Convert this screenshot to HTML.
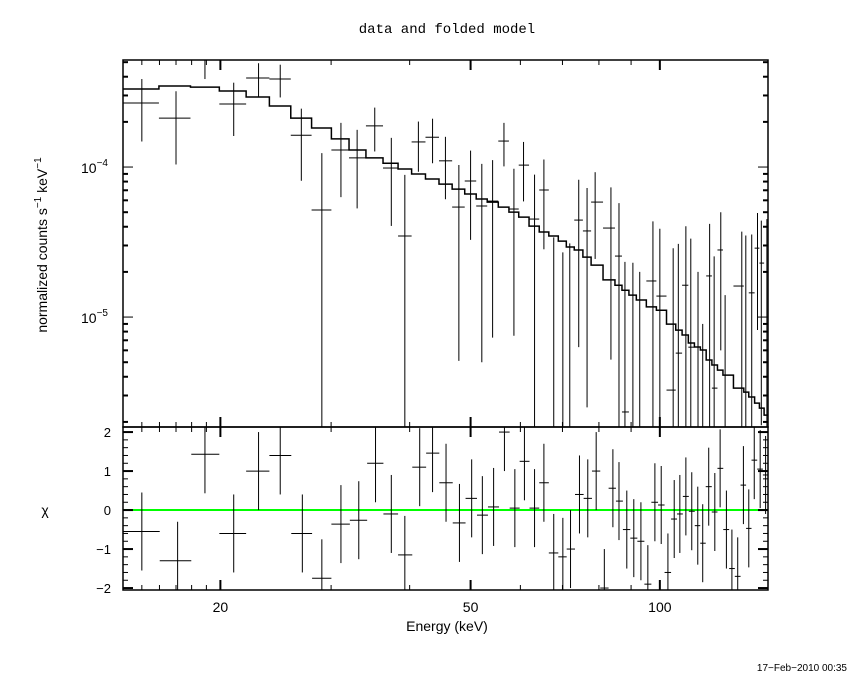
<!DOCTYPE html>
<html><head><meta charset="utf-8"><style>
body{margin:0;background:#fff;}
svg{display:block;font-family:"Liberation Sans",sans-serif;}
</style></head><body>
<svg id="chart" width="850" height="680" viewBox="0 0 850 680" xmlns="http://www.w3.org/2000/svg">
<rect width="850" height="680" fill="#fff"/>
<text x="447" y="33" text-anchor="middle" font-family="Liberation Mono, monospace" font-size="14">data and folded model</text>
<text transform="translate(47,245) rotate(-90)" text-anchor="middle" font-size="14">normalized counts s<tspan dy="-6" font-size="10">−1</tspan><tspan dy="6"> keV</tspan><tspan dy="-6" font-size="10">−1</tspan></text>
<text x="45" y="515" text-anchor="middle" font-size="14">χ</text>
<text x="447" y="631" text-anchor="middle" font-size="14">Energy (keV)</text>
<text x="847" y="671" text-anchor="end" font-size="10">17−Feb−2010 00:35</text>
<g id="topPanel"></g>
<g id="botPanel"></g>
</svg>
<script>
const SCALE = 1e-4;
const energies = [15.0,17.0,18.9,21.0,23.0,24.9,26.9,29.0,31.1,33.0,35.2,37.4,39.3,41.3,43.5,45.6,47.9,50.0,52.1,54.2,56.5,58.6,60.7,63.2,65.4,67.8,70.1,71.9,74.3,76.6,78.9,83.6,86.1,88.0,90.6,92.9,97.5,100,105,107,110,112,115,117,120,122,125,127,135,137,140,143,145,148];
const dataVals = [2.67,2.12,5.2,2.63,3.92,3.86,1.63,0.517,1.30,1.15,1.88,0.985,0.347,1.47,1.58,1.10,0.541,0.807,0.55,0.593,1.49,0.525,1.03,0.45,0.703,-0.05,-0.1,-0.05,0.443,0.375,0.584,0.392,0.255,0.0233,-0.08,-0.1,0.174,0.138,0.0326,0.0575,0.163,0.063,-0.05,-0.12,0.188,0.0336,0.28,-0.07,0.161,0.01,0.145,0.288,0.229,0.2];
const dataErrs = [1.19,1.08,1.34,1.02,1.0,0.95,0.82,0.72,0.67,0.62,0.61,0.58,0.54,0.54,0.52,0.49,0.49,0.48,0.5,0.52,0.48,0.45,0.44,0.44,0.42,0.39,0.37,0.36,0.38,0.35,0.34,0.34,0.32,0.21,0.31,0.3,0.26,0.25,0.255,0.25,0.24,0.27,0.25,0.21,0.23,0.22,0.22,0.21,0.21,0.34,0.21,0.206,0.21,0.25];
const modelVals = [3.31,3.47,3.41,3.21,2.93,2.55,2.12,1.82,1.54,1.30,1.15,1.06,0.97,0.898,0.832,0.77,0.713,0.661,0.612,0.584,0.541,0.501,0.464,0.404,0.369,0.347,0.321,0.293,0.28,0.251,0.222,0.177,0.163,0.151,0.14,0.13,0.117,0.111,0.0898,0.0819,0.0759,0.0671,0.0631,0.0603,0.0517,0.0479,0.0443,0.041,0.0336,0.0316,0.0293,0.0267,0.0247,0.0222];
const chiEnergies = [15.0,17.1,18.9,21.0,23.0,24.9,27.0,29.0,31.1,33.2,35.3,37.4,39.3,41.5,43.5,45.7,48.0,50.2,52.2,54.4,56.6,58.8,60.9,63.2,65.4,67.8,70.1,72.1,74.5,76.8,79.2,81.6,84.2,86.1,88.6,90.9,93.3,95.7,98.2,100.5,103,105.4,107.6,110,112.4,114.9,117,119.6,122.3,124.7,127.6,130.2,133,135.8,138.5,141.3,144.4,147.3];
const chiVals = [-0.55,-1.3,1.43,-0.6,1.0,1.4,-0.6,-1.75,-0.36,-0.26,1.2,-0.1,-1.15,1.1,1.46,0.7,-0.33,0.3,-0.13,0.08,2.0,0.05,1.25,0.05,0.7,-1.1,-1.2,-1.0,0.4,0.3,1.0,-2.0,0.56,0.23,-0.5,-0.72,-0.8,-1.9,0.2,0.13,-1.6,-0.23,-0.1,0.35,-0.03,-0.4,-0.85,0.6,-0.05,1.07,-0.5,-1.5,-1.7,0.64,-0.47,1.28,1.05,0.9];
const xTickLabels = [20,50,100];
const yTickLabels = [1e-4,1e-5];
const chiTickLabels = [2,1,0,-1,-2];

const L=123,R=768,T=60,M=427,B=590;
const EMIN=14,EMAX=148.6, YMIN=1.85e-6, YMAX=5.17e-4, CMIN=-2.05, CMAX=2.13;
const NS="http://www.w3.org/2000/svg";
const xs=e=>L+(Math.log10(e)-Math.log10(EMIN))/(Math.log10(EMAX)-Math.log10(EMIN))*(R-L);
const ys=v=>{ if(v<=0) return M+50; return M-(Math.log10(v)-Math.log10(YMIN))/(Math.log10(YMAX)-Math.log10(YMIN))*(M-T);};
const cs=c=>B-(c-CMIN)/(CMAX-CMIN)*(B-M);
const clampT=y=>Math.max(T,Math.min(M,y));
const clampC=y=>Math.max(M,Math.min(B,y));
function mk(tag,attrs,parent){const el=document.createElementNS(NS,tag);for(const k in attrs)el.setAttribute(k,attrs[k]);parent.appendChild(el);return el;}
function edges(en){const e=[EMIN];for(let i=0;i<en.length-1;i++)e.push(Math.sqrt(en[i]*en[i+1]));e.push(EMAX);return e;}
const topG=document.getElementById('topPanel'), botG=document.getElementById('botPanel');

const ed=edges(energies);
energies.forEach((e,i)=>{
  const v=dataVals[i]*SCALE, s=dataErrs[i]*SCALE;
  const g=mk('g',{stroke:'#000','stroke-width':1},topG);
  
  
  const x=xs(e);
  const y1=clampT(ys(v+s)), y2=clampT(ys(v-s));
  mk('line',{x1:x,x2:x,y1:y1,y2:y2},g);
  if(v>0){const y=ys(v); if(y>=T&&y<=M) mk('line',{x1:xs(ed[i]),x2:xs(ed[i+1]),y1:y,y2:y},g);}
});
let d='';
energies.forEach((e,i)=>{const y=clampT(ys(modelVals[i]*SCALE));d+=(i?'L':'M')+xs(ed[i])+','+y+'L'+xs(ed[i+1])+','+y;});
const mp=mk('path',{d:d,fill:'none',stroke:'#000','stroke-width':1.5},topG);



const ce=edges(chiEnergies);
const zl=mk('line',{x1:L,x2:R,y1:cs(0),y2:cs(0),stroke:'#00ff00','stroke-width':2},botG);


chiEnergies.forEach((e,i)=>{
  const c=chiVals[i];
  const g=mk('g',{stroke:'#000','stroke-width':1},botG);
  
  
  const x=xs(e);
  mk('line',{x1:x,x2:x,y1:clampC(cs(c+1)),y2:clampC(cs(c-1))},g);
  const y=cs(c); if(y>=M&&y<=B) mk('line',{x1:xs(ce[i]),x2:xs(ce[i+1]),y1:y,y2:y},g);
});

const f1=mk('rect',{x:L,y:T,width:R-L,height:M-T,fill:'none',stroke:'#000','stroke-width':1.5},topG);


const f2=mk('rect',{x:L,y:M,width:R-L,height:B-M,fill:'none',stroke:'#000','stroke-width':1.5},botG);



const xt=[15,16,17,18,19,20,30,40,50,60,70,80,90,100];
xt.forEach(e=>{const x=xs(e);const big=xTickLabels.includes(e);const len=big?10:5;
  [[T,1],[M,-1],[M,1],[B,-1]].forEach(([y0,dir])=>{const t=mk('line',{x1:x,x2:x,y1:y0,y2:y0+dir*len,stroke:'#000','stroke-width':big?2:1},topG);
    
    });
});
xTickLabels.forEach(e=>{const t=mk('text',{x:xs(e),y:612,'text-anchor':'middle','font-size':14},botG);t.textContent=e;
  
  });
for(let p=-6;p<=-4;p++)for(let m=1;m<=9;m++){const v=m*Math.pow(10,p);if(v<YMIN||v>YMAX)continue;const y=ys(v);const big=m===1;const len=big?10:5;
  const t1=mk('line',{x1:L,x2:L+len,y1:y,y2:y,stroke:'#000','stroke-width':big?1:2},topG);
  
  
  const t2=mk('line',{x1:R,x2:R-len,y1:y,y2:y,stroke:'#000','stroke-width':big?1:2},topG);
  
  }
yTickLabels.forEach(v=>{const y=ys(v);const p=Math.round(Math.log10(v));const t=mk('text',{x:108,y:y+6,'text-anchor':'end','font-size':14},topG);
  t.innerHTML='10<tspan dy="-7" font-size="10">'+(p<0?'−':'')+Math.abs(p)+'</tspan>';
  
  });
for(let c=-2;c<=2.001;c+=0.2){const y=cs(c);const big=Math.abs(c-Math.round(c))<1e-6;const len=big?10:5;
  [[L,1],[R,-1]].forEach(([x0,dir])=>{const t=mk('line',{x1:x0,x2:x0+dir*len,y1:y,y2:y,stroke:'#000','stroke-width':big?2:1},botG);
    
    });}
chiTickLabels.forEach(c=>{const t=mk('text',{x:111,y:cs(c)+5,'text-anchor':'end','font-size':13},botG);t.textContent=c<0?'−'+Math.abs(c):c;
  
  });
</script>
</body></html>
